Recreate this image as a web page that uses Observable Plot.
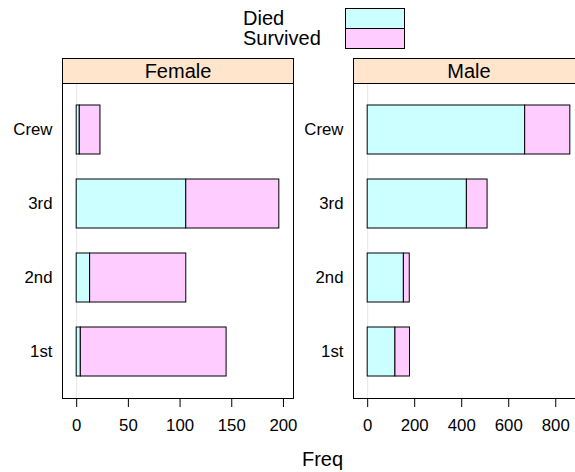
<!DOCTYPE html>
<html>
<head>
<meta charset="utf-8">
<script src="https://cdn.jsdelivr.net/npm/d3@7"></script>
<script src="https://cdn.jsdelivr.net/npm/@observablehq/plot@0.6"></script>
<style>
  body { margin: 0; background: white; }
  #c { position: relative; width: 575px; height: 472px; overflow: hidden; background: white;
       font-family: "Liberation Sans", Arial, Helvetica, sans-serif; }
  #c svg { position: absolute; }
</style>
</head>
<body>
<div id="c"></div>
<script>
// ---- data (Titanic: Class x Sex x Survived) ----
const classes = ["1st", "2nd", "3rd", "Crew"];
const classOrderTopToBottom = ["Crew", "3rd", "2nd", "1st"];
const statuses = ["Died", "Survived"];
const femaleDied = [4, 13, 106, 3];
const femaleSurvived = [141, 93, 90, 20];
const maleDied = [118, 154, 422, 670];
const maleSurvived = [62, 25, 88, 192];
const femaleTicks = [0, 50, 100, 150, 200];
const maleTicks = [0, 200, 400, 600, 800];
const panelNames = ["Female", "Male"];
const xLabel = "Freq";

const FONT = '"Liberation Sans", Arial, Helvetica, sans-serif';
const fills = ["#CCFFFF", "#FFCCFF"];

function panel(died, survived, ticks, marginLeft, marginRight) {
  const rows = [
    ...classes.map((c, i) => ({cls: c, status: statuses[0], n: died[i]})),
    ...classes.map((c, i) => ({cls: c, status: statuses[1], n: survived[i]}))
  ];
  const max = d3.max(classes, (c, i) => died[i] + survived[i]);
  const pad = 0.07 * max;
  return Plot.plot({
    width: 300,
    height: 375,
    marginLeft, marginRight,
    marginTop: 10,
    marginBottom: 50,
    style: {fontFamily: FONT, fontSize: "16.8px", color: "black", background: "transparent", overflow: "visible"},
    x: {domain: [-pad, max + pad]},
    y: {type: "band", domain: classOrderTopToBottom, paddingInner: 1 / 3, paddingOuter: 0.2667},
    color: {domain: statuses, range: fills},
    marks: [
      Plot.ruleX([0], {stroke: "#e6e6e6"}),
      Plot.barX(rows, Plot.stackX({y: "cls", x: "n", fill: "status", stroke: "black", strokeWidth: 1})),
      Plot.frame({stroke: "black"}),
      Plot.axisX({ticks, tickSize: 9, tickPadding: 12, label: null, tickFormat: d3.format("d")}),
      Plot.axisY({tickSize: 0, tickPadding: 10, label: null})
    ]
  });
}

const c = document.getElementById("c");
const p1 = panel(femaleDied, femaleSurvived, femaleTicks, 62, 7);
p1.style.left = "0px"; p1.style.top = "73px";
c.appendChild(p1);
const p2 = panel(maleDied, maleSurvived, maleTicks, 53, 16);
p2.style.left = "300px"; p2.style.top = "73px";
c.appendChild(p2);

// overlay: strips, legend, axis title
const svg = d3.select(c).append("svg")
  .attr("width", 575).attr("height", 472)
  .style("left", "0px").style("top", "0px")
  .style("font-family", FONT);

const strips = [{x: 62, w: 231}, {x: 353, w: 231}];
strips.forEach((s, i) => {
  svg.append("rect").attr("x", s.x + 0.5).attr("y", 58.5).attr("width", s.w).attr("height", 25)
    .attr("fill", "#FFE5CC").attr("stroke", "black");
  svg.append("text").attr("x", s.x + s.w / 2 + 0.5).attr("y", 77.5)
    .attr("text-anchor", "middle").attr("font-size", 20).text(panelNames[i]);
});

// legend
statuses.forEach((st, i) => {
  svg.append("text").attr("x", 243).attr("y", 25 + i * 20).attr("font-size", 20).text(st);
  svg.append("rect").attr("x", 345.5).attr("y", 8.5 + i * 20).attr("width", 59).attr("height", 20)
    .attr("fill", fills[i]).attr("stroke", "black");
});

svg.append("text").attr("x", 322.5).attr("y", 466).attr("text-anchor", "middle")
  .attr("font-size", 20).text(xLabel);
</script>
</body>
</html>
